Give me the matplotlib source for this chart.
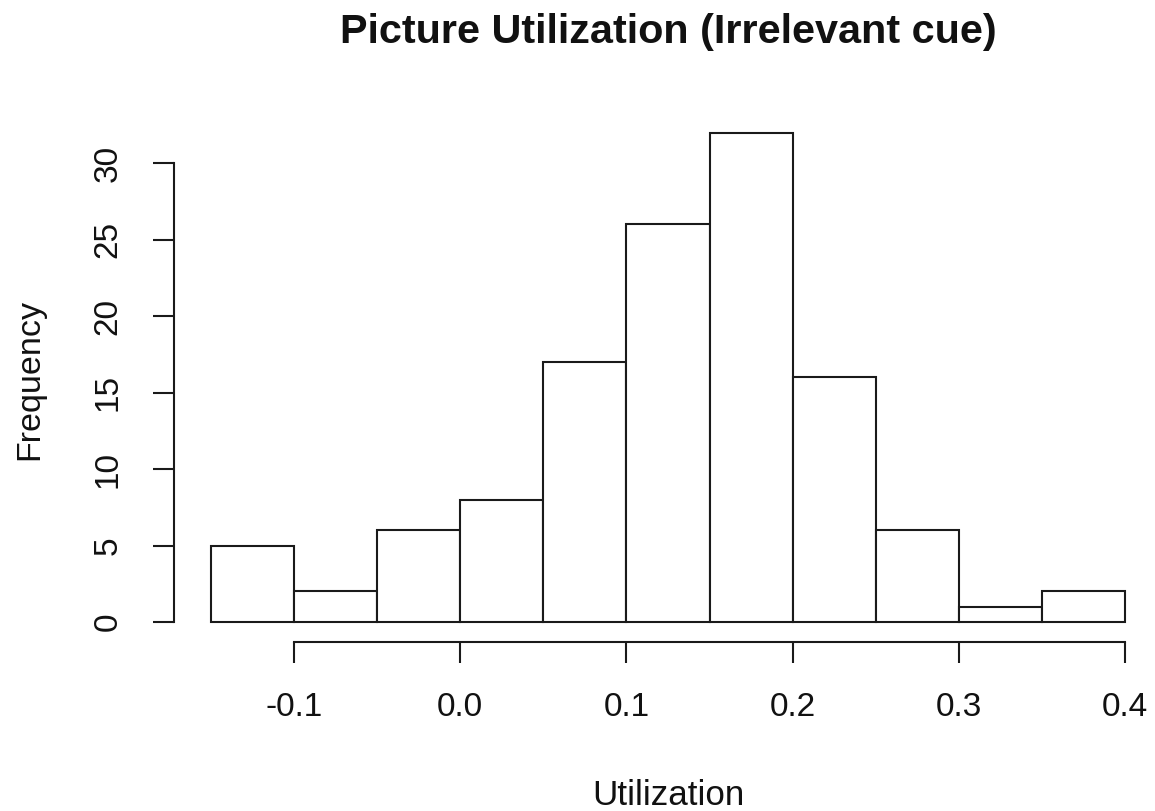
import matplotlib
matplotlib.use("Agg")
import matplotlib.pyplot as plt

bin_edges = [-0.15, -0.10, -0.05, 0.00, 0.05, 0.10, 0.15, 0.20, 0.25, 0.30, 0.35, 0.40]
counts = [5, 2, 6, 8, 17, 26, 32, 16, 6, 1, 2]
x_ticks = [-0.1, 0.0, 0.1, 0.2, 0.3, 0.4]
x_tick_labels = ["-0.1", "0.0", "0.1", "0.2", "0.3", "0.4"]
y_ticks = [0, 5, 10, 15, 20, 25, 30]
y_tick_labels = ["0", "5", "10", "15", "20", "25", "30"]
title = "Picture Utilization (Irrelevant cue)"
xlabel = "Utilization"
ylabel = "Frequency"

plt.rcParams['font.family'] = ['Liberation Sans', 'DejaVu Sans']

W, H = 1155, 811
fig = plt.figure(figsize=(W / 100, H / 100), dpi=100)
left, right, bottom, top = 174.3, 1161.6, 641.6, 113.0
ax = fig.add_axes([left / W, 1 - bottom / H, (right - left) / W, (bottom - top) / H])

widths = [bin_edges[i + 1] - bin_edges[i] for i in range(len(counts))]
ax.bar(bin_edges[:-1], counts, width=widths, align='edge', color='white',
       edgecolor='#1a1a1a', linewidth=1.5)

xmin, xmax = bin_edges[0], bin_edges[-1]
pad = 0.04 * (xmax - xmin)
ax.set_xlim(xmin - pad, xmax + pad)
ax.set_ylim(-0.04 * max(counts), max(counts) * 1.04)

for s in ['top', 'right']:
    ax.spines[s].set_visible(False)
ax.spines['left'].set_bounds(y_ticks[0], y_ticks[-1])
ax.spines['bottom'].set_bounds(x_ticks[0], x_ticks[-1])
for s in ['left', 'bottom']:
    ax.spines[s].set_linewidth(1.5)
    ax.spines[s].set_color('#1a1a1a')

ax.set_xticks(x_ticks)
ax.set_xticklabels(x_tick_labels)
ax.set_yticks(y_ticks)
ax.set_yticklabels(y_tick_labels, rotation=90, va='center')
ax.tick_params(axis='both', length=15, width=1.5, color='#1a1a1a', labelsize=24, labelcolor='#111111')
ax.tick_params(axis='x', pad=21.5)
ax.tick_params(axis='y', pad=21.5)

fig.text(668 / W, 1 - 43 / H, title, ha='center', va='baseline', fontsize=29.8, fontweight='bold', color='#111111')
fig.text(668 / W, 1 - 805 / H, xlabel, ha='center', va='baseline', fontsize=25.2, color='#111111')
fig.text(30 / W, 1 - 379 / H, ylabel, ha='center', va='center', fontsize=24.5, rotation=90, color='#111111')

fig.savefig("out.png", dpi=100)
